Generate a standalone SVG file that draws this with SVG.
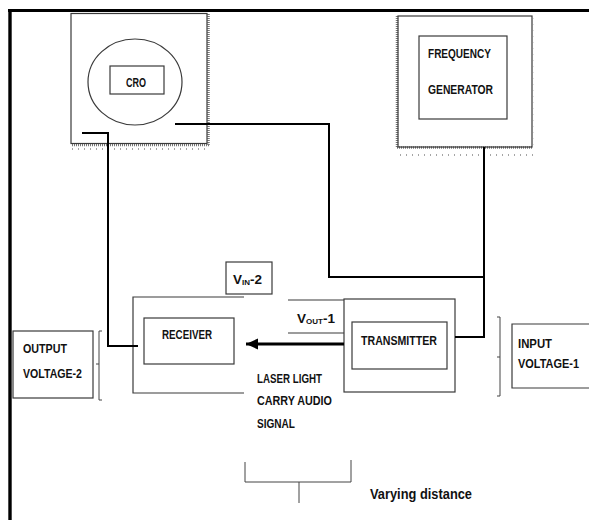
<svg xmlns="http://www.w3.org/2000/svg" width="589" height="520" viewBox="0 0 589 520">
<style>
.box{fill:none;stroke:#3a3a3a;stroke-width:1.2}
.wire{fill:none;stroke:#000;stroke-width:2}
.shadow{fill:none;stroke:#777;stroke-width:2.5;stroke-dasharray:1 1}
.sparse{fill:none;stroke:#888;stroke-width:1.5;stroke-dasharray:1 5}
.t{font-family:"Liberation Sans",Arial,sans-serif;font-weight:bold;font-size:13.5px;fill:#111}
.sub{font-size:8px}
.brace{fill:none;stroke:#444;stroke-width:1}
</style>
<defs>
<marker id="ah" markerUnits="userSpaceOnUse" markerWidth="13" markerHeight="13" refX="12" refY="6.5" orient="auto">
<path d="M0,1 L12,6.5 L0,12 Z" fill="#000"/>
</marker>
</defs>
<rect width="589" height="520" fill="#fff"/>
<g id="frame">
<line x1="8" y1="10.5" x2="589" y2="10.5" stroke="#000" stroke-width="3"/>
<line x1="10" y1="9" x2="10" y2="520" stroke="#000" stroke-width="3.4"/>
</g>
<g id="cro">
<line class="shadow" x1="208.5" y1="14" x2="208.5" y2="146"/>
<line class="shadow" x1="72" y1="145" x2="210" y2="145"/>
<line class="sparse" x1="72" y1="149" x2="210" y2="149"/>
<rect class="box" x="71" y="13.5" width="136" height="130"/>
<ellipse class="box" cx="135" cy="82" rx="47" ry="43"/>
<rect class="box" x="110" y="66" width="54" height="28"/>
<text class="t" x="126" y="87" textLength="20" lengthAdjust="spacingAndGlyphs">CRO</text>
</g>
<g id="frequency-generator">
<line class="shadow" x1="397" y1="16" x2="397" y2="148"/>
<line class="shadow" x1="397" y1="147.5" x2="533" y2="147.5"/>
<line class="sparse" x1="400" y1="155" x2="533" y2="155"/>
<rect class="box" x="398" y="16" width="134" height="131"/>
<line class="sparse" x1="532.5" y1="18" x2="532.5" y2="147" stroke-width="1.2"/>
<rect class="box" x="419" y="36" width="88" height="83"/>
<text class="t" x="428" y="58" textLength="63" lengthAdjust="spacingAndGlyphs">FREQUENCY</text>
<text class="t" x="428" y="94" textLength="65" lengthAdjust="spacingAndGlyphs">GENERATOR</text>
</g>
<g id="vin2">
<rect class="box" x="226" y="262" width="46" height="32"/>
<text class="t" x="233" y="284">V<tspan class="sub" dy="1">IN</tspan><tspan dy="-1">-2</tspan></text>
</g>
<g id="receiver">
<path class="box" d="M244,297 H133 V393 H244"/>
<rect class="box" x="144" y="318" width="90" height="46"/>
<text class="t" x="162" y="339" textLength="50" lengthAdjust="spacingAndGlyphs">RECEIVER</text>
</g>
<g id="vout1">
<path class="box" d="M288,300 H344 M288,333 H344"/>
<text class="t" x="297" y="323">V<tspan class="sub" dy="1">OUT</tspan><tspan dy="-1">-1</tspan></text>
</g>
<g id="transmitter">
<rect class="box" x="344" y="299" width="111" height="93"/>
<rect class="box" x="352" y="322" width="95" height="47"/>
<text class="t" x="361" y="345" textLength="76" lengthAdjust="spacingAndGlyphs">TRANSMITTER</text>
</g>
<g id="output-voltage">
<rect class="box" x="13" y="331" width="80" height="67"/>
<text class="t" x="23" y="353" textLength="44" lengthAdjust="spacingAndGlyphs">OUTPUT</text>
<text class="t" x="23" y="378" textLength="59" lengthAdjust="spacingAndGlyphs">VOLTAGE-2</text>
<path class="brace" d="M102,331 H99 V400 H102 M99,364 H96"/>
</g>
<g id="input-voltage">
<path class="box" d="M590,324 H512 V388 H590"/>
<text class="t" x="518" y="348" textLength="34" lengthAdjust="spacingAndGlyphs">INPUT</text>
<text class="t" x="518" y="368" textLength="61" lengthAdjust="spacingAndGlyphs">VOLTAGE-1</text>
<path class="brace" d="M497,317 H500 V396 H497 M500,357 H497"/>
</g>
<g id="laser-label">
<text class="t" x="257" y="383" textLength="65" lengthAdjust="spacingAndGlyphs">LASER LIGHT</text>
<text class="t" x="257" y="405" textLength="75" lengthAdjust="spacingAndGlyphs">CARRY AUDIO</text>
<text class="t" x="257" y="428" textLength="38" lengthAdjust="spacingAndGlyphs">SIGNAL</text>
</g>
<g id="distance">
<path class="brace" d="M245,462 V482 H351 V460 M299,482 V503"/>
<text class="t" x="370" y="499" style="font-size:15px" textLength="102" lengthAdjust="spacingAndGlyphs">Varying distance</text>
</g>
<g id="connectors">
<path class="wire" d="M82,133 H108 V346 H138"/>
<path class="wire" d="M175,124 H329 V277 H484"/>
<path class="wire" d="M484,147 V337 H455"/>
<path d="M344,344 H246" fill="none" stroke="#000" stroke-width="3" marker-end="url(#ah)"/>
</g>
</svg>
